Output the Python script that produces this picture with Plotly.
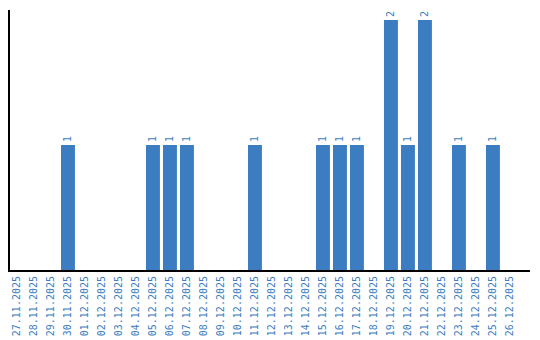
import plotly.graph_objects as go

dates = ["27.11.2025", "28.11.2025", "29.11.2025", "30.11.2025", "01.12.2025",
         "02.12.2025", "03.12.2025", "04.12.2025", "05.12.2025", "06.12.2025",
         "07.12.2025", "08.12.2025", "09.12.2025", "10.12.2025", "11.12.2025",
         "12.12.2025", "13.12.2025", "14.12.2025", "15.12.2025", "16.12.2025",
         "17.12.2025", "18.12.2025", "19.12.2025", "20.12.2025", "21.12.2025",
         "22.12.2025", "23.12.2025", "24.12.2025", "25.12.2025", "26.12.2025"]
counts = [0, 0, 0, 1, 0, 0, 0, 0, 1, 1, 1, 0, 0, 0, 1, 0, 0, 0, 1, 1,
          1, 0, 2, 1, 2, 0, 1, 0, 1, 0]

blue = "#3b7dc0"
mono = "DejaVu Sans Mono"
texts = [str(v) if v > 0 else "" for v in counts]

fig = go.Figure(go.Bar(
    x=dates, y=counts, marker_color=blue, marker_line_width=0,
    text=texts, textposition="outside", textangle=-90,
    textfont=dict(color=blue, size=10, family=mono),
    cliponaxis=False, hoverinfo="skip",
))

fig.update_layout(
    width=540, height=340,
    margin=dict(l=10, r=10, t=10, b=70, autoexpand=False),
    paper_bgcolor="white", plot_bgcolor="white",
    bargap=0.18, showlegend=False,
    font=dict(family=mono, size=10, color=blue),
)
fig.update_xaxes(
    type="category", range=[-0.41, 30.18], automargin=False,
    showline=True, linecolor="black", linewidth=2,
    showgrid=False, ticks="", tickangle=-90,
    tickfont=dict(color=blue, size=10, family=mono),
)
fig.update_yaxes(
    range=[0, 2.08], showline=True, linecolor="black", linewidth=2,
    showgrid=False, zeroline=False, showticklabels=False, ticks="",
    automargin=False,
)

fig.write_html("out.html")
